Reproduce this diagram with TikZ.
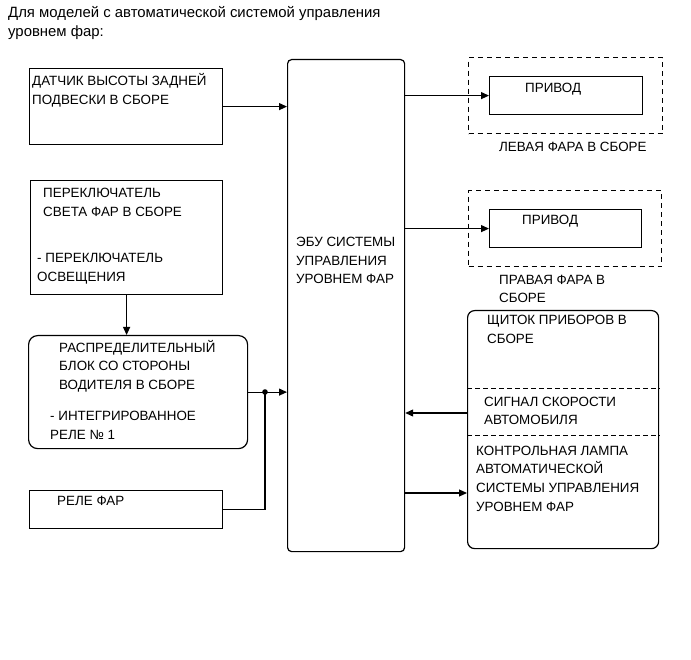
\documentclass[tikz,border=0pt]{standalone}
\usepackage{fontspec}
\setmainfont{Liberation Sans}
\usetikzlibrary{arrows.meta}
\begin{document}
\begin{tikzpicture}[x=1pt,y=-1pt,
  box/.style={draw, line width=1.2pt, inner sep=0pt, anchor=north west},
  rbox/.style={box, rounded corners=9pt},
  dbox/.style={box, dashed, dash pattern=on 5pt off 4pt},
  txt/.style={anchor=base west, inner sep=0pt, align=left, font=\fontsize{13.4}{18.7}\selectfont},
  ttl/.style={anchor=base west, inner sep=0pt, align=left, font=\fontsize{14.9}{19}\selectfont},
  conn/.style={line width=1.2pt, -{Triangle[length=8pt,width=7pt]}},
  wire/.style={line width=1.2pt}]
\useasboundingbox (0,0) rectangle (691,660);

% title
\node[ttl] (title) at (8,37) {Для моделей с автоматической системой управления\\уровнем фар:};

% boxes
\node[box, minimum width=193pt, minimum height=76pt] (dat) at (29,68) {};
\node[box, minimum width=192pt, minimum height=114pt] (sw) at (30,180) {};
\node[rbox, minimum width=219pt, minimum height=113pt] (dist) at (28,335) {};
\node[box, minimum width=193pt, minimum height=38pt] (rel) at (29,490) {};
\node[box, rounded corners=4pt, minimum width=117pt, minimum height=492pt] (ecu) at (287,59) {};
\node[dbox, minimum width=194pt, minimum height=76pt] (lf) at (468,57) {};
\node[box, minimum width=153pt, minimum height=38pt] (p1) at (489,76) {};
\node[dbox, minimum width=193pt, minimum height=76pt] (rf) at (468,190) {};
\node[box, minimum width=152pt, minimum height=38pt] (p2) at (489,209) {};
\node[rbox, rounded corners=7pt, minimum width=191pt, minimum height=238pt] (inst) at (467,310) {};

% texts (anchor = baseline of the last line)
\node[txt] (tdat) at (32,104.7) {ДАТЧИК ВЫСОТЫ ЗАДНЕЙ\\ПОДВЕСКИ В СБОРЕ};
\node[txt] (tsw1) at (43,216.2) {ПЕРЕКЛЮЧАТЕЛЬ\\СВЕТА ФАР В СБОРЕ};
\node[txt] (tsw2) at (37,281.2) {- ПЕРЕКЛЮЧАТЕЛЬ\\ОСВЕЩЕНИЯ};
\node[txt] (tdist1) at (59,389.4) {РАСПРЕДЕЛИТЕЛЬНЫЙ\\БЛОК СО СТОРОНЫ\\ВОДИТЕЛЯ В СБОРЕ};
\node[txt] (tdist2) at (50,439.2) {- ИНТЕГРИРОВАННОЕ\\РЕЛЕ № 1};
\node[txt] (trel) at (57,505.5) {РЕЛЕ ФАР};
\node[txt] (tecu) at (296,283.9) {ЭБУ СИСТЕМЫ\\УПРАВЛЕНИЯ\\УРОВНЕМ ФАР};
\node[txt] (tp1) at (525,92.5) {ПРИВОД};
\node[txt] (tp2) at (522,225) {ПРИВОД};
\node[txt] (tlf) at (499,151.5) {ЛЕВАЯ ФАРА В СБОРЕ};
\node[txt] (trf) at (499,303) {ПРАВАЯ ФАРА В\\СБОРЕ};
\node[txt] (ti1) at (487,343.7) {ЩИТОК ПРИБОРОВ В\\СБОРЕ};
\node[txt] (ti2) at (484,424.7) {СИГНАЛ СКОРОСТИ\\АВТОМОБИЛЯ};
\node[txt] (ti3) at (476,511.1) {КОНТРОЛЬНАЯ ЛАМПА\\АВТОМАТИЧЕСКОЙ\\СИСТЕМЫ УПРАВЛЕНИЯ\\УРОВНЕМ ФАР};

% separators in instrument cluster
\coordinate (sepA) at (0,388);
\coordinate (sepB) at (0,435);
\draw[dashed, dash pattern=on 5pt off 3pt, line width=0.8pt] (inst.west |- sepA) -- (inst.east |- sepA);
\draw[dashed, dash pattern=on 5pt off 3pt, line width=0.8pt] (inst.west |- sepB) -- (inst.east |- sepB);

% connectors
\draw[conn] (dat.east) -- (dat.east -| ecu.west);
\draw[conn] (sw.south) -- (sw.south |- dist.north);
\draw[conn] (dist.east) -- (dist.east -| ecu.west);
\coordinate (j) at (265,392);
\fill (j) circle (2.8pt);
\draw[wire] (rel.east) -| (j);
\draw[conn] (ecu.east |- p1.west) -- (p1.west);
\draw[conn] (ecu.east |- p2.west) -- (p2.west);
\coordinate (sig) at (0,413);
\coordinate (lamp) at (0,493);
\draw[conn] (inst.west |- sig) -- (ecu.east |- sig);
\draw[conn] (ecu.east |- lamp) -- (inst.west |- lamp);
\end{tikzpicture}
\end{document}
